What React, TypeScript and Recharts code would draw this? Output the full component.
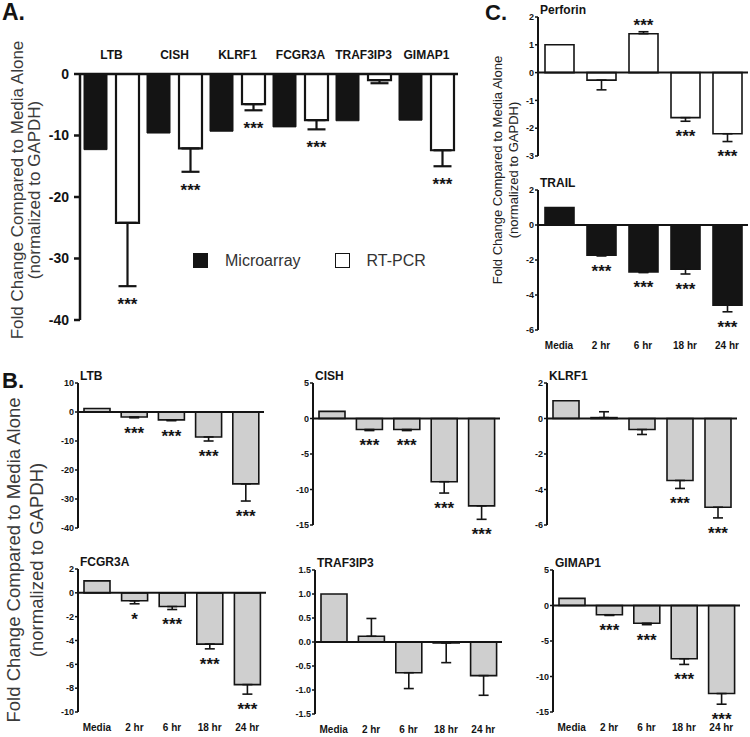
import React from 'react';
import { BarChart, Bar, XAxis, YAxis, ErrorBar, ReferenceLine, LabelList, Legend } from 'recharts';

const FONT = '"Liberation Sans", Arial, Helvetica, sans-serif';
const INK = '#141414';
const GRAY = '#cfcfcf';

// panel A: microarray vs RT-PCR fold change
const genes = ['LTB', 'CISH', 'KLRF1', 'FCGR3A', 'TRAF3IP3', 'GIMAP1'];
const microarray = [-12.3, -9.6, -9.3, -8.6, -7.6, -7.5];
const rtpcr = [-24.2, -12.1, -4.9, -7.5, -1.0, -12.4];
const rtpcrErr = [10.3, 3.8, 1.0, 1.5, 0.5, 2.6];
const rtpcrSig = ['***', '***', '***', '***', '', '***'];
const ticksA = [-40, -30, -20, -10, 0];

// panels B and C: time course
const times = ['Media', '2 hr', '6 hr', '18 hr', '24 hr'];

const ltb = [1.2, -1.7, -2.7, -8.6, -24.8];
const ltbErr = [0, 0.3, 0.3, 1.4, 5.9];
const ltbSig = ['', '***', '***', '***', '***'];

const cish = [1.0, -1.55, -1.55, -8.9, -12.3];
const cishErr = [0, 0.15, 0.15, 1.6, 1.9];
const cishSig = ['', '***', '***', '***', '***'];

const klrf1 = [1.0, 0.05, -0.62, -3.49, -5.0];
const klrf1Err = [0, 0.33, 0.28, 0.45, 0.6];
const klrf1Sig = ['', '', '', '***', '***'];

const fcgr3a = [1.0, -0.67, -1.15, -4.3, -7.7];
const fcgr3aErr = [0, 0.25, 0.25, 0.4, 0.8];
const fcgr3aSig = ['', '*', '***', '***', '***'];

const traf3ip3 = [1.0, 0.12, -0.64, -0.02, -0.7];
const traf3ip3Err = [0, 0.37, 0.33, 0.41, 0.41];
const traf3ip3Sig = ['', '', '', '', ''];

const gimap1 = [1.0, -1.3, -2.5, -7.5, -12.4];
const gimap1Err = [0, 0.1, 0.2, 0.8, 1.5];
const gimap1Sig = ['', '***', '***', '***', '***'];

const perforin = [1.0, -0.27, 1.4, -1.62, -2.2];
const perforinErr = [0, 0.35, 0.07, 0.13, 0.28];
const perforinSig = ['', '', '***', '***', '***'];

const trail = [1.0, -1.72, -2.68, -2.52, -4.58];
const trailErr = [0, 0.05, 0.04, 0.28, 0.38];
const trailSig = ['', '***', '***', '***', '***'];

type Row = { name: string; value: number; err: number; range: number[] | null; sig: string };

const toRows = (vals: number[], errs: number[], sigs: string[]): Row[] =>
  times.map((name, i) => ({
    name,
    value: vals[i],
    err: errs[i],
    range: errs[i] ? (vals[i] < 0 ? [errs[i], 0] : [0, errs[i]]) : null,
    sig: sigs[i],
  }));

// stars sit just past the end of the error bar
const starLabel = (vals: number[], errs: number[], sigs: string[], fs: number, gap: number) => (props: any) => {
  const i = props.index;
  if (!sigs[i]) return <g />;
  const vb = props.viewBox ?? props;
  const x = Number(vb.x);
  const y = Number(vb.y);
  const w = Number(vb.width);
  const h = Number(vb.height);
  const top = Math.min(y, y + h);
  const bot = Math.max(y, y + h);
  const ppu = (bot - top) / Math.abs(vals[i]);
  const cy = vals[i] < 0 ? bot + errs[i] * ppu + gap : top - errs[i] * ppu - gap;
  return (
    <text x={x + w / 2} y={cy + fs * 0.58} textAnchor="middle" fontSize={fs} fontWeight={700} fill={INK} fontFamily={FONT}>
      {sigs[i]}
    </text>
  );
};

type Cfg = {
  title: string;
  vals: number[];
  errs: number[];
  sigs: string[];
  fill: string;
  axisX: number;
  top: number;
  bottom: number;
  right: number;
  domain: [number, number];
  ticks: number[];
  showX: boolean;
  barSize: number;
  fmt?: (v: number) => string;
};

const charts: Cfg[] = [
  { title: 'LTB', vals: ltb, errs: ltbErr, sigs: ltbSig, fill: GRAY, axisX: 78, top: 383, bottom: 528, right: 264, domain: [-40, 10], ticks: [-40, -30, -20, -10, 0, 10], showX: false, barSize: 26 },
  { title: 'CISH', vals: cish, errs: cishErr, sigs: cishSig, fill: GRAY, axisX: 313, top: 383, bottom: 525, right: 500, domain: [-15, 5], ticks: [-15, -10, -5, 0, 5], showX: false, barSize: 26 },
  { title: 'KLRF1', vals: klrf1, errs: klrf1Err, sigs: klrf1Sig, fill: GRAY, axisX: 547, top: 383, bottom: 525, right: 737, domain: [-6, 2], ticks: [-6, -4, -2, 0, 2], showX: false, barSize: 26 },
  { title: 'FCGR3A', vals: fcgr3a, errs: fcgr3aErr, sigs: fcgr3aSig, fill: GRAY, axisX: 78, top: 569, bottom: 712, right: 266, domain: [-10, 2], ticks: [-10, -8, -6, -4, -2, 0, 2], showX: true, barSize: 26 },
  { title: 'TRAF3IP3', vals: traf3ip3, errs: traf3ip3Err, sigs: traf3ip3Sig, fill: GRAY, axisX: 315, top: 570, bottom: 714, right: 502, domain: [-1.5, 1.5], ticks: [-1.5, -1, -0.5, 0, 0.5, 1, 1.5], showX: true, barSize: 26, fmt: (v) => v.toFixed(1) },
  { title: 'GIMAP1', vals: gimap1, errs: gimap1Err, sigs: gimap1Sig, fill: GRAY, axisX: 553, top: 570, bottom: 712, right: 740, domain: [-15, 5], ticks: [-15, -10, -5, 0, 5], showX: true, barSize: 26 },
  { title: 'Perforin', vals: perforin, errs: perforinErr, sigs: perforinSig, fill: '#ffffff', axisX: 538, top: 17, bottom: 156, right: 748, domain: [-3, 2], ticks: [-3, -2, -1, 0, 1, 2], showX: false, barSize: 29 },
  { title: 'TRAIL', vals: trail, errs: trailErr, sigs: trailSig, fill: INK, axisX: 538, top: 190, bottom: 330, right: 748, domain: [-6, 2], ticks: [-6, -4, -2, 0, 2], showX: true, barSize: 29 },
];

function TimeChart({ cfg }: { cfg: Cfg }) {
  const MT = 10;
  const MB = cfg.showX ? 0 : 20;
  const YW = 40;
  const XH = 24;
  const left = cfg.axisX - YW;
  const width = cfg.right - left;
  const height = MT + (cfg.bottom - cfg.top) + (cfg.showX ? XH : 0) + MB;
  const rows = toRows(cfg.vals, cfg.errs, cfg.sigs);
  return (
    <div style={{ position: 'absolute', left, top: cfg.top - MT, width, height }}>
      <BarChart width={width} height={height} data={rows} margin={{ top: MT, right: 0, bottom: MB, left: 0 }}>
        <XAxis
          dataKey="name"
          hide={!cfg.showX}
          height={XH}
          interval={0}
          axisLine={false}
          tickLine={false}
          tickSize={0}
          tickMargin={12}
          tick={{ fontSize: 10, fontWeight: 700, fill: INK, fontFamily: FONT }}
        />
        <YAxis
          type="number"
          domain={cfg.domain}
          ticks={cfg.ticks}
          interval={0}
          allowDataOverflow
          width={YW}
          tickFormatter={cfg.fmt}
          axisLine={{ stroke: INK, strokeWidth: 2 }}
          tickLine={{ stroke: INK, strokeWidth: 1.5 }}
          tickSize={3}
          tickMargin={1}
          tick={{ fontSize: 9, fontWeight: 700, fill: INK, fontFamily: FONT }}
        />
        <ReferenceLine y={0} stroke={INK} strokeWidth={2} />
        <Bar dataKey="value" fill={cfg.fill} stroke={INK} strokeWidth={1.6} barSize={cfg.barSize} isAnimationActive={false}>
          <ErrorBar dataKey="range" width={5} stroke={INK} strokeWidth={1.6} direction="y" />
          <LabelList dataKey="sig" content={starLabel(cfg.vals, cfg.errs, cfg.sigs, 17, 11)} />
        </Bar>
      </BarChart>
    </div>
  );
}

const rowsA = genes.map((gene, i) => ({
  gene,
  micro: microarray[i],
  rt: rtpcr[i],
  range: [rtpcrErr[i], 0],
  sig: rtpcrSig[i],
}));

const renderLegend = (props: any) => (
  <div style={{ display: 'flex', alignItems: 'center', fontFamily: FONT, fontSize: 16, color: '#333' }}>
    {(props.payload || []).map((p: any, i: number) => (
      <div key={i} style={{ display: 'flex', alignItems: 'center', marginRight: 34 }}>
        <span
          style={{
            display: 'inline-block',
            width: 15,
            height: 15,
            boxSizing: 'border-box',
            background: p.color,
            border: `1.5px solid ${INK}`,
            marginRight: 17,
          }}
        />
        <span style={{ lineHeight: '15px' }}>{p.value}</span>
      </div>
    ))}
  </div>
);

function PanelA() {
  return (
    <div style={{ position: 'absolute', left: 30, top: 20, width: 430, height: 310 }}>
      <BarChart width={430} height={310} data={rowsA} margin={{ top: 0, right: 2, bottom: 10, left: 0 }} barGap={9}>
        <XAxis
          dataKey="gene"
          orientation="top"
          height={54}
          interval={0}
          axisLine={false}
          tickLine={false}
          tickSize={0}
          tickMargin={15}
          tick={{ fontSize: 12, fontWeight: 700, fill: INK, fontFamily: FONT }}
        />
        <YAxis
          type="number"
          domain={[-40, 0]}
          ticks={ticksA}
          interval={0}
          allowDataOverflow
          width={50}
          axisLine={{ stroke: INK, strokeWidth: 2.5 }}
          tickLine={{ stroke: INK, strokeWidth: 2.5 }}
          tickSize={6}
          tickMargin={5}
          tick={{ fontSize: 14, fontWeight: 700, fill: INK, fontFamily: FONT }}
        />
        <ReferenceLine y={0} stroke={INK} strokeWidth={2.5} />
        <Legend
          layout="horizontal"
          verticalAlign="middle"
          align="center"
          wrapperStyle={{ top: 233, left: 163, width: 'auto', height: 'auto' }}
          content={renderLegend}
        />
        <Bar dataKey="micro" name="Microarray" fill={INK} stroke={INK} strokeWidth={1} barSize={23} isAnimationActive={false} />
        <Bar dataKey="rt" name="RT-PCR" fill="#ffffff" stroke={INK} strokeWidth={2.2} barSize={23} isAnimationActive={false}>
          <ErrorBar dataKey="range" width={9} stroke={INK} strokeWidth={2.2} direction="y" />
          <LabelList dataKey="sig" content={starLabel(rtpcr, rtpcrErr, rtpcrSig, 17, 14)} />
        </Bar>
      </BarChart>
    </div>
  );
}

function Overlay() {
  const yLabel = 'Fold Change Compared to Media Alone';
  const yLabel2 = '(normalized to GAPDH)';
  return (
    <svg width={750} height={737} style={{ position: 'absolute', left: 0, top: 0, pointerEvents: 'none' }} fontFamily={FONT}>
      <text x={2} y={20} fontSize={23} fontWeight={700} fill={INK}>A.</text>
      <text x={2} y={388} fontSize={22} fontWeight={700} fill={INK}>B.</text>
      <text x={485} y={20} fontSize={22} fontWeight={700} fill={INK}>C.</text>

      <g fill="#3a3a3a" fontSize={17} textAnchor="middle" dominantBaseline="central">
        <text transform="translate(17,190) rotate(-90)">{yLabel}</text>
        <text transform="translate(34,190) rotate(-90)">{yLabel2}</text>
      </g>
      <g fill="#3a3a3a" fontSize={18.5} textAnchor="middle" dominantBaseline="central">
        <text transform="translate(13,560) rotate(-90)">{yLabel}</text>
        <text transform="translate(36,560) rotate(-90)">{yLabel2}</text>
      </g>
      <g fill="#222" fontSize={13} textAnchor="middle" dominantBaseline="central">
        <text transform="translate(497,170) rotate(-90)">{yLabel}</text>
        <text transform="translate(513,170) rotate(-90)">{yLabel2}</text>
      </g>

      {charts.map((c) => (
        <text key={c.title} x={c.axisX + 2} y={c.top - 3} fontSize={12} fontWeight={700} fill={INK}>
          {c.title}
        </text>
      ))}
    </svg>
  );
}

export default function App() {
  return (
    <div style={{ position: 'absolute', left: 0, top: 0, width: 750, height: 737, background: '#fff', overflow: 'hidden', fontFamily: FONT }}>
      <PanelA />
      {charts.map((c) => (
        <TimeChart key={c.title} cfg={c} />
      ))}
      <Overlay />
    </div>
  );
}
